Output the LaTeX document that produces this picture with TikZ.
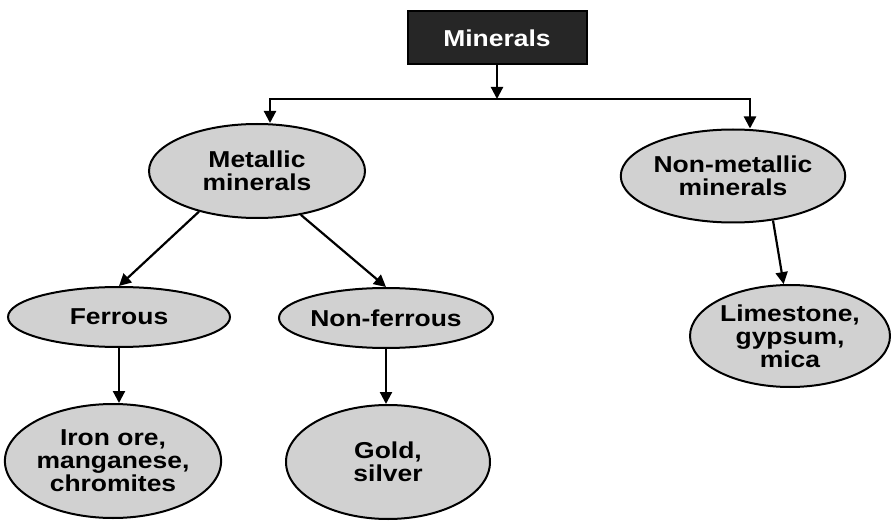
\documentclass[tikz,border=0pt]{standalone}
\usepackage{fontspec}
\setmainfont[FakeStretch=1.15]{Liberation Sans}
\usetikzlibrary{shapes.geometric,arrows.meta}

\begin{document}
\begin{tikzpicture}[x=1pt, y=-1pt,
	oval/.style={ellipse, draw, line width=2pt, fill=black!18, inner sep=0pt, align=center, font=\fontsize{23}{23}\selectfont\bfseries},
	pfeil/.style={line width=2.2pt, -{Triangle[width=12pt,length=12pt]}}]
	%\draw[help lines, step=50] (0,0) grid (891,521);
	\useasboundingbox (0,0) rectangle (891,521);

	\node[draw, line width=2pt, fill=black!85, text=white, minimum width=179pt, minimum height=53pt, font=\fontsize{23}{23}\selectfont\bfseries] (minerals) at (497,38) {Minerals};	% Kopf

	\node[oval, minimum width=216pt, minimum height=94pt] (metal) at (257,171) {Metallic\\minerals};
	\node[oval, minimum width=216pt, minimum height=93pt] (nonmetal) at (733,176) {Non-metallic\\minerals};

	\node[oval, minimum width=222pt, minimum height=60pt] (ferrous) at (119,317) {Ferrous};
	\node[oval, minimum width=213pt, minimum height=60pt] (nonferrous) at (386,318) {Non-ferrous};
	\node[oval, minimum width=200pt, minimum height=102pt] (lime) at (790,336) {Limestone,\\gypsum,\\mica};

	\node[oval, minimum width=215pt, minimum height=114pt] (iron) at (113,461) {Iron ore,\\manganese,\\chromites};
	\node[oval, minimum width=204pt, minimum height=114pt] (gold) at (388,462) {Gold,\\silver};

	\coordinate (barL) at (270,99);		% Querbalken links
	\coordinate (barR) at (750,99);		% Querbalken rechts
	\draw[pfeil] (minerals.south) -- (minerals.south |- barL);
	\draw[pfeil] (barR) -- (barL) -- (barL |- metal.north);
	\draw[pfeil] (barL) -- (barR) -- (barR |- nonmetal.north);

	\draw[pfeil] (metal.215) -- (ferrous.north);
	\draw[pfeil] (metal.315) -- (nonferrous.north);
	\draw[pfeil] (nonmetal.312) -- (lime.97);

	\draw[pfeil] (ferrous.south) -- (ferrous.south |- iron.north);
	\draw[pfeil] (nonferrous.south) -- (nonferrous.south |- gold.north);
\end{tikzpicture}
\end{document}
